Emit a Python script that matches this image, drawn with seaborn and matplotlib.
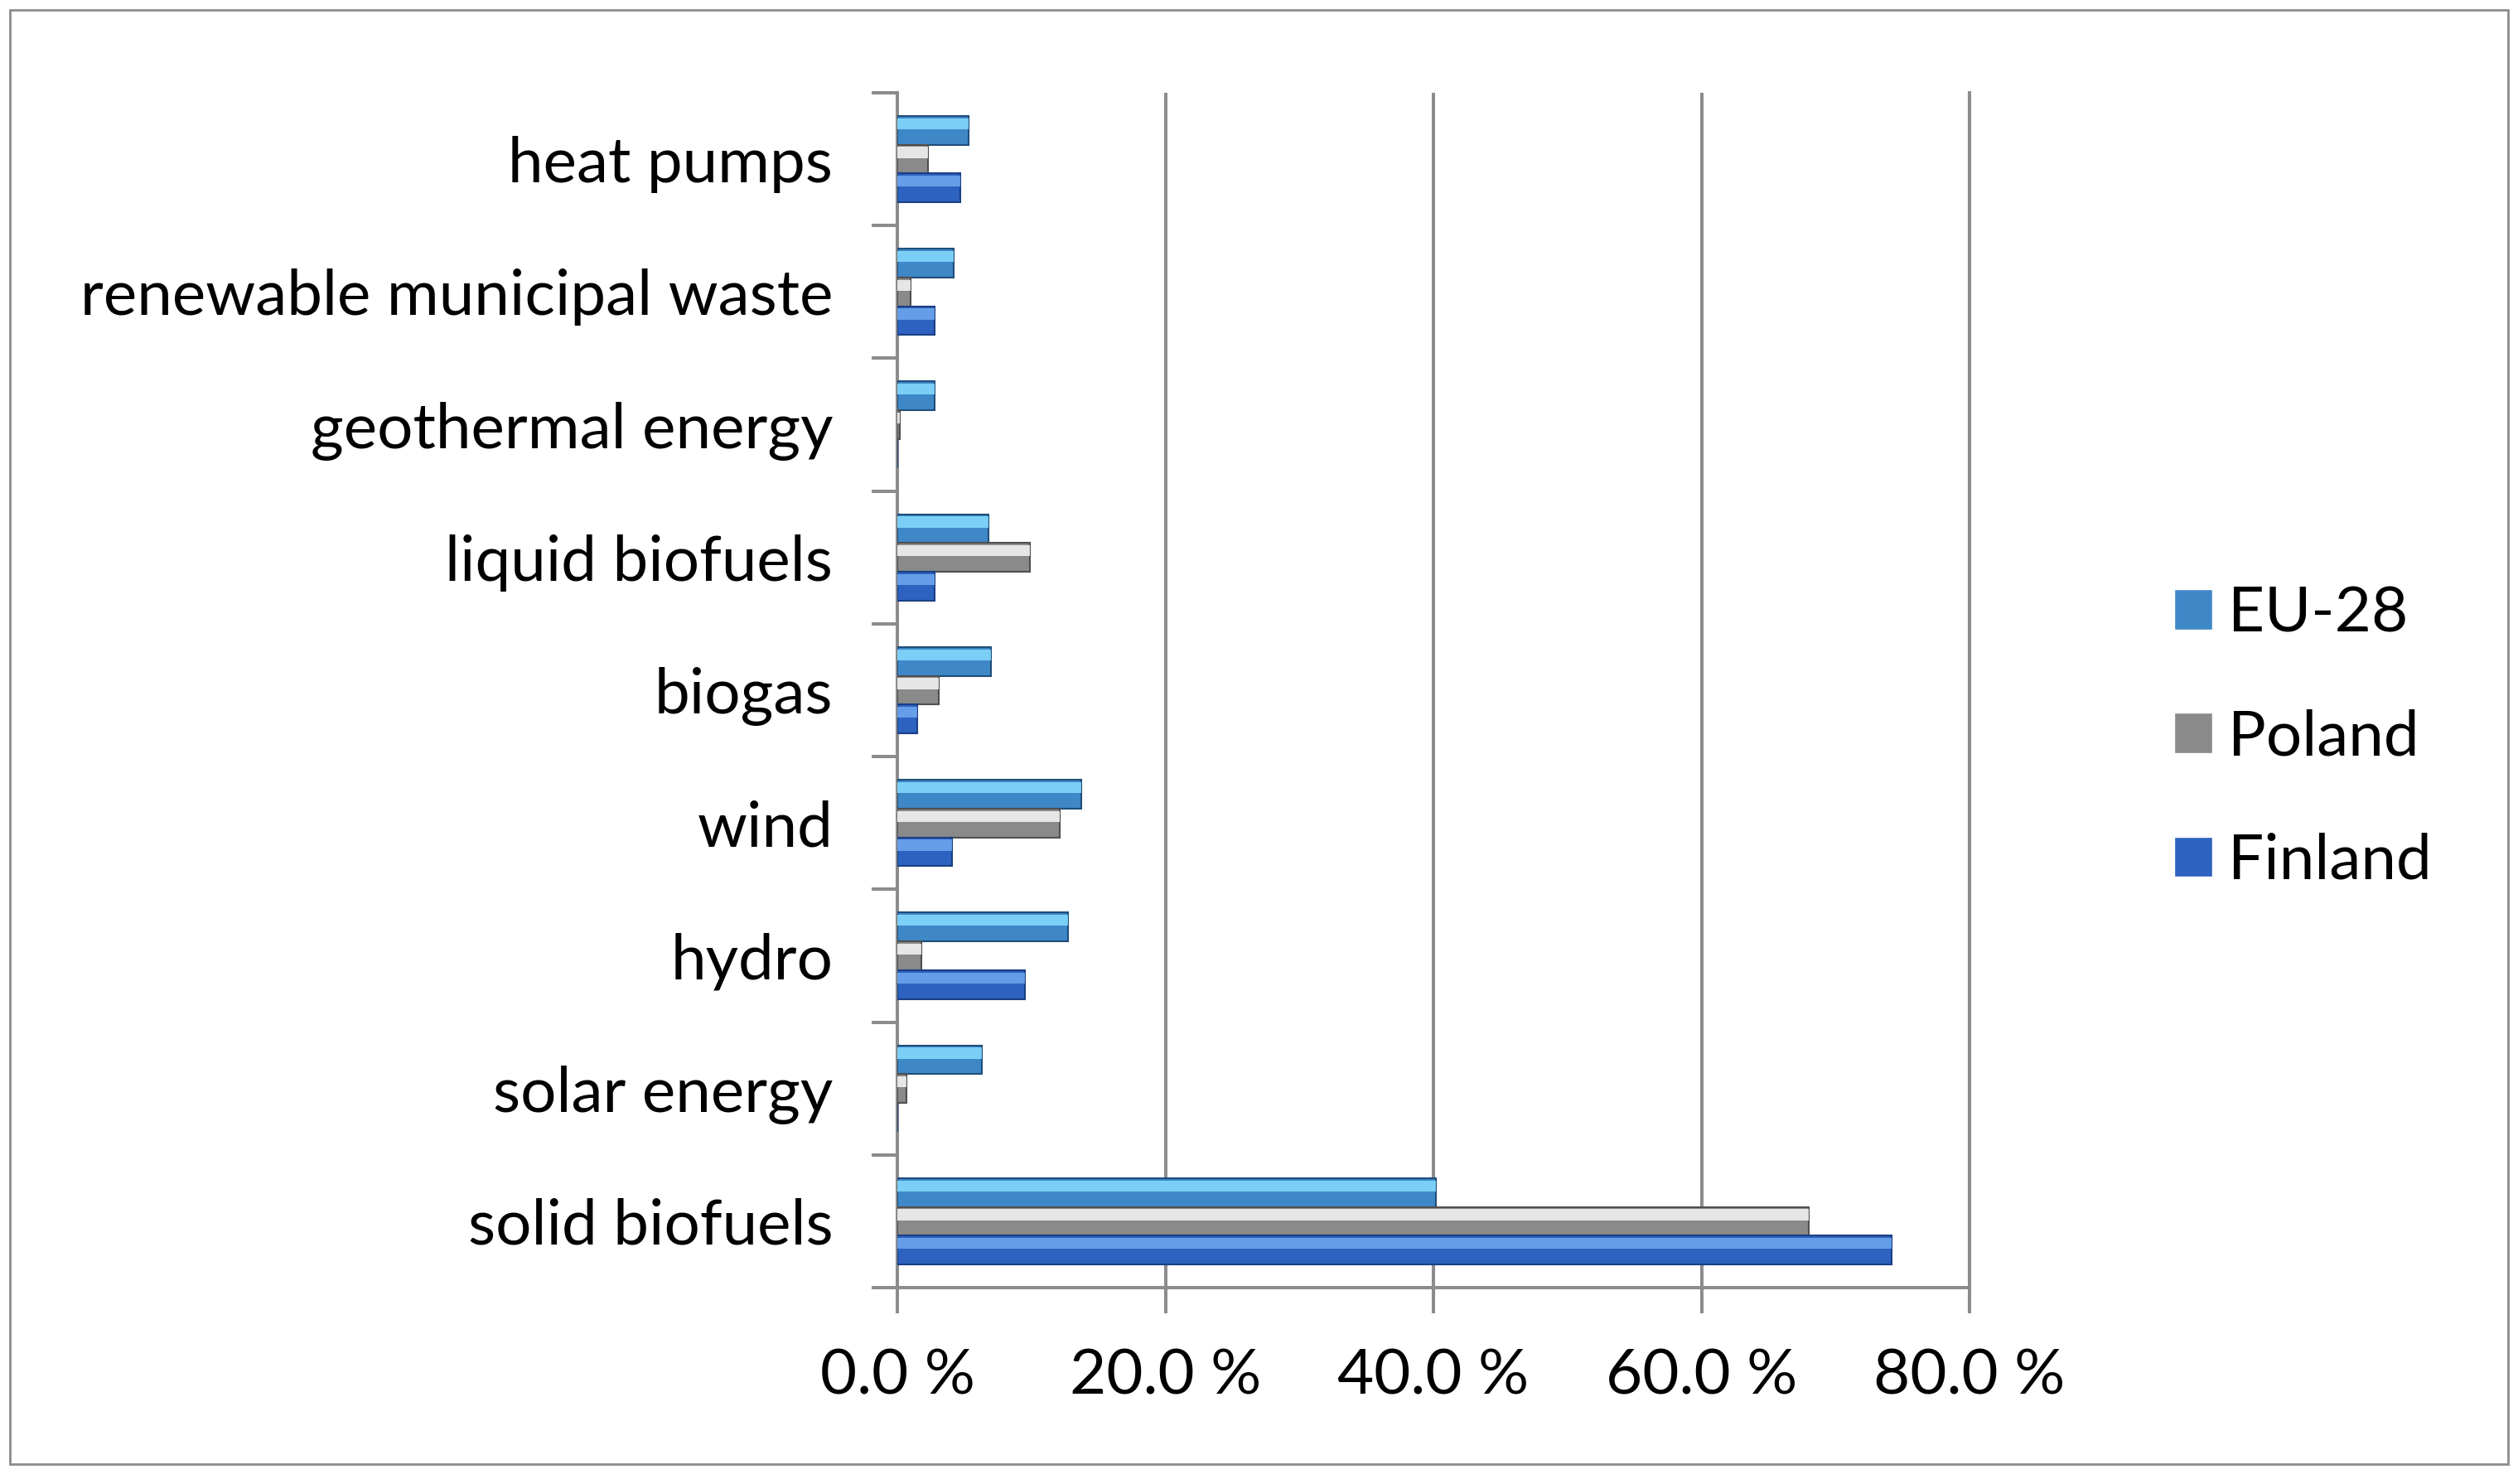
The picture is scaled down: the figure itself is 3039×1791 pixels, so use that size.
import numpy as np
import pandas as pd
import matplotlib
matplotlib.use("Agg")
import matplotlib.pyplot as plt
import seaborn as sns
from matplotlib.patches import Rectangle
from matplotlib.ticker import FuncFormatter

# 再生可能エネルギー源ごとの構成比 (%)
SOURCES = ["heat pumps", "renewable municipal waste", "geothermal energy",
           "liquid biofuels", "biogas", "wind", "hydro", "solar energy",
           "solid biofuels"]
COUNTRIES = ["EU-28", "Poland", "Finland"]
EU28 = [5.3, 4.2, 2.8, 6.8, 7.0, 13.7, 12.7, 6.3, 40.2]
POLAND = [2.3, 1.0, 0.2, 9.9, 3.1, 12.1, 1.8, 0.7, 68.0]
FINLAND = [4.7, 2.8, 0.0, 2.8, 1.5, 4.1, 9.5, 0.0, 74.2]
X_TICKS = [0, 20, 40, 60, 80]

MAIN = ["#3F88C8", "#8A8A8A", "#2E62C0"]
HIGHLIGHT = ["#86DCFF", "#F7F7F7", "#6FA8F0"]
EDGE = ["#1F4E79", "#4F4F4F", "#1B3F85"]
GRAY = "#8C8C8C"

df = pd.DataFrame({
    "source": SOURCES * len(COUNTRIES),
    "country": np.repeat(COUNTRIES, len(SOURCES)),
    "share": EU28 + POLAND + FINLAND,
})

sns.set_theme(style="white")
plt.rcParams["font.family"] = ["Lato", "DejaVu Sans"]
plt.rcParams["text.color"] = "black"
plt.rcParams["xtick.color"] = "black"
plt.rcParams["ytick.color"] = "black"
FS = 55

fig = plt.figure(figsize=(30.39, 17.91), dpi=100)
ax = fig.add_axes([0.3564, 0.1323, 0.4258, 0.8052])

sns.barplot(data=df, y="source", x="share", hue="country", order=SOURCES,
            hue_order=COUNTRIES, palette=MAIN, saturation=1, width=0.65,
            orient="h", ax=ax)

# 立体っぽく見せるため上側にハイライトを重ねる
for cont, hl, ec in zip(ax.containers, HIGHLIGHT, EDGE):
    for bar in cont:
        bar.set_edgecolor(ec)
        bar.set_linewidth(1.5)
        bar.set_zorder(3)
        x, y = bar.get_x(), bar.get_y()
        w, h = bar.get_width(), bar.get_height()
        if w <= 0:
            continue
        ax.add_patch(Rectangle((x, y + h * 0.08), w, h * 0.38,
                               facecolor=hl, edgecolor="none", alpha=0.85,
                               zorder=3.5))

ax.set_xlim(0, 80)
ax.set_ylim(len(SOURCES) - 0.5, -0.5)
ax.set_xlabel("")
ax.set_ylabel("")

ax.set_xticks(X_TICKS)
ax.xaxis.set_major_formatter(FuncFormatter(lambda v, p: f"{v:.1f} %"))
ax.xaxis.grid(True, color=GRAY, linewidth=2.9)
ax.yaxis.grid(False)
ax.set_axisbelow(True)

ax.set_yticks(range(len(SOURCES)))
ax.set_yticklabels(SOURCES)
ax.set_yticks(np.arange(-0.5, len(SOURCES)), minor=True)
ax.tick_params(axis="y", which="major", length=0, pad=56, labelsize=FS,
               labelcolor="black")
ax.tick_params(axis="y", which="minor", length=22, width=2.9, color=GRAY,
               direction="out", left=True)
ax.tick_params(axis="x", which="major", length=22, width=2.9, color=GRAY,
               direction="out", bottom=True, pad=30, labelsize=FS,
               labelcolor="black")

for side in ["left", "bottom", "right"]:
    ax.spines[side].set_color(GRAY)
    ax.spines[side].set_linewidth(2.9)
ax.spines["top"].set_visible(False)

handles, labels = ax.get_legend_handles_labels()
ax.legend(handles, labels, loc="center left", bbox_to_anchor=(0.851, 0.503),
          bbox_transform=fig.transFigure, frameon=False, fontsize=FS,
          handlelength=0.6, handleheight=0.6, handletextpad=0.25,
          labelspacing=1.05, borderpad=0)

fig.add_artist(Rectangle((12 / 3039, 24 / 1791), 0.9921, 0.98,
                         transform=fig.transFigure, fill=False,
                         edgecolor=GRAY, linewidth=2))

fig.savefig("out.png", dpi=100, facecolor="white")
